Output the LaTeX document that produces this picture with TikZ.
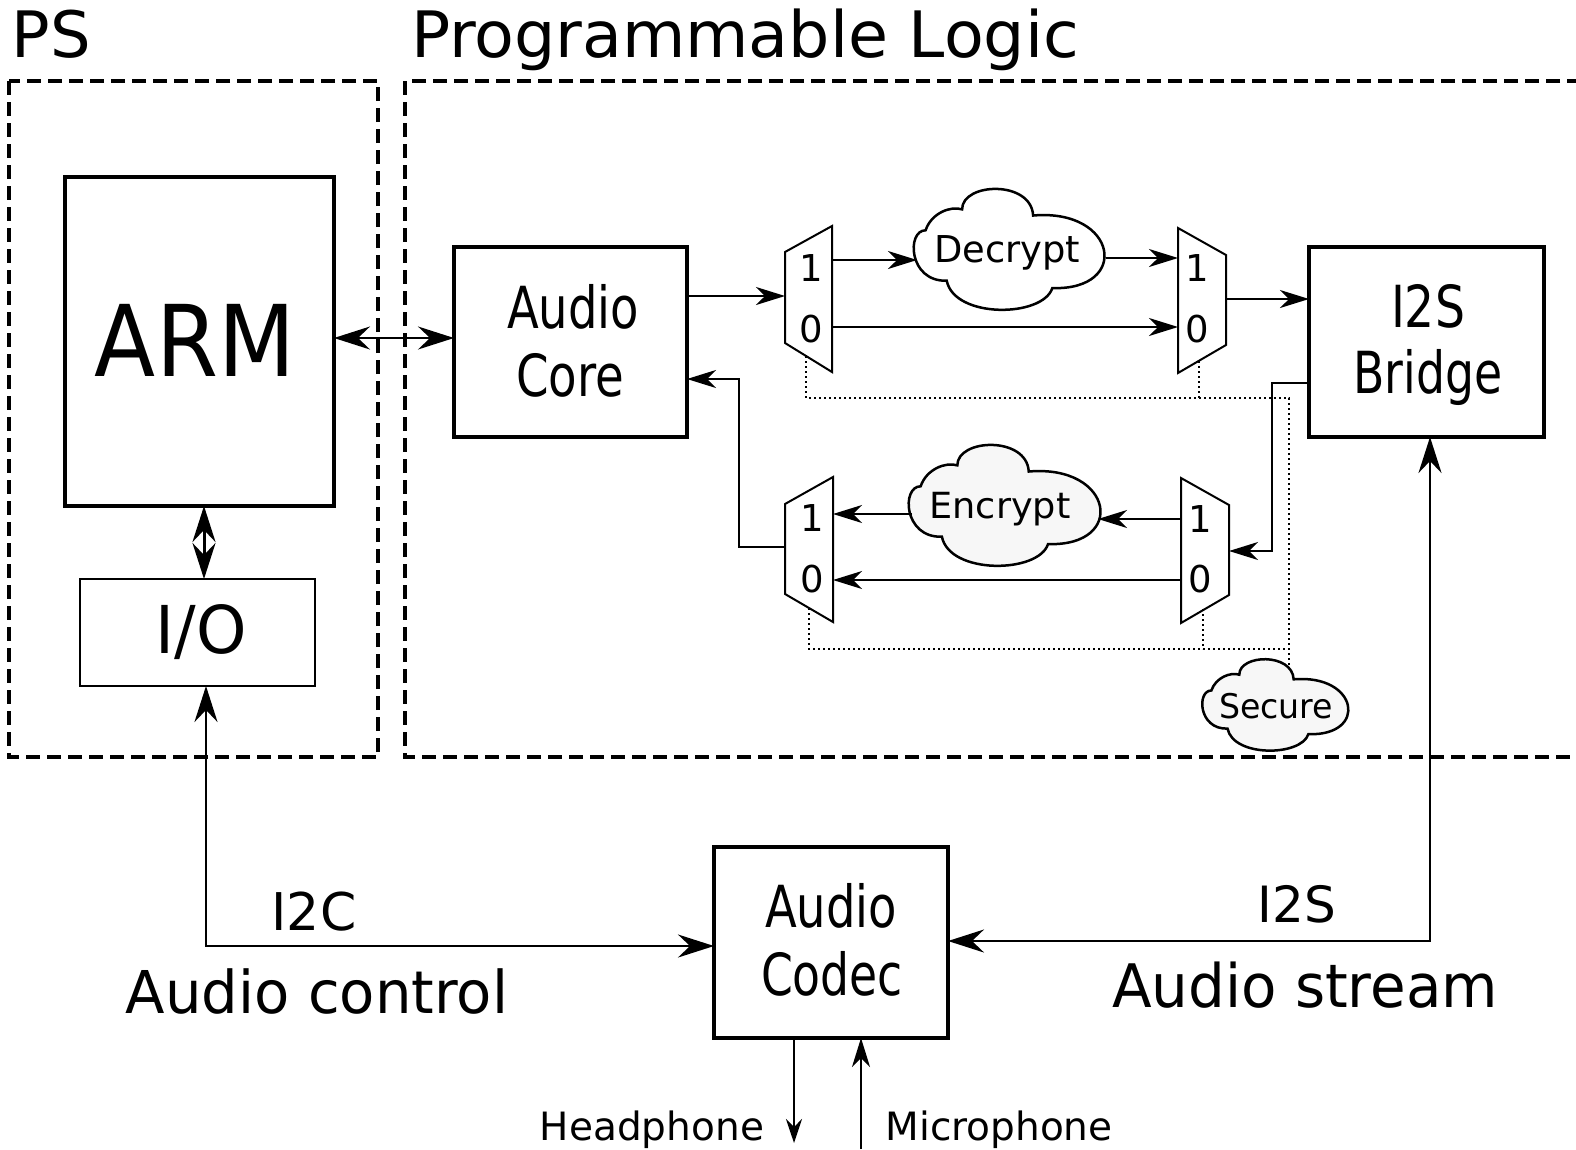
\documentclass[tikz,border=0pt]{standalone}
\usepackage{fontspec}
\setmainfont{DejaVu Sans}
\usepackage{graphicx}
\usetikzlibrary{arrows.meta}
\newcommand\fw[3]{{\fontsize{#1pt}{#1pt}\selectfont\resizebox{#2pt}{\height}{#3}}}
\newcommand\fs[2]{{\fontsize{#1pt}{#1pt}\selectfont #2}}
\tikzset{
  BigTip/.tip={Stealth[length=36pt,width=23pt,inset=12pt]},
  MedTip/.tip={Stealth[length=29pt,width=18pt,inset=9pt]},
  SmallTip/.tip={Stealth[length=24pt,width=16pt,inset=8pt]},
  region/.style={line width=4pt, dash pattern=on 14pt off 7pt},
  box/.style={draw, inner sep=0pt, outer sep=0pt},
  txt/.style={inner sep=0pt, outer sep=0pt, anchor=base},
  wire/.style={line width=2pt},
  sel/.style={line width=1.6pt, dash pattern=on 2pt off 3pt},
  muxline/.style={line width=2pt, line join=miter},
  cloudline/.style={line width=2.5pt}
}
\newcommand\cloudshape[5]{%
  \begin{scope}[shift={(#1,#2)}, x=#3pt, y=-#4pt]
    \draw[cloudline, fill=#5] (0.24,0.19) .. controls (0.24,-0.03) and (0.60,-0.05) .. (0.61,0.24)
      .. controls (1.05,0.18) and (1.12,0.85) .. (0.71,0.83)
      .. controls (0.66,1.07) and (0.2,1.08) .. (0.16,0.77)
      .. controls (-0.04,0.78) and (-0.05,0.36) .. (0.05,0.36)
      .. controls (0.08,0.22) and (0.18,0.16) .. (0.24,0.19) -- cycle;
  \end{scope}}
\begin{document}
\begin{tikzpicture}[x=1pt,y=-1pt]
\useasboundingbox (0,0) rectangle (1576,1149);

% titles
\node[txt, anchor=base west] (psT) at (12,57) {\fs{64}{PS}};
\node[txt, anchor=base west] (plT) at (411,57) {\fw{64}{668}{Programmable Logic}};

% regions
\draw[region] (9,81) rectangle (378,757);
\begin{scope}
  \clip (0,0) rectangle (1576,1149);
  \draw[region] (405,81) rectangle (1640,757);
\end{scope}

% boxes
\node[box, line width=4.5pt, minimum width=269pt, minimum height=329pt] (arm) at (199.5,341.5) {};
\node[txt] (armT) at (195,376) {\fw{99}{200}{ARM}};
\node[box, line width=2.5pt, minimum width=235pt, minimum height=107pt] (io) at (197.5,632.5) {};
\node[txt] (ioT) at (201,653) {\fw{66}{91}{I/O}};
\node[box, line width=3.5pt, minimum width=233pt, minimum height=190pt] (core) at (570.5,342) {};
\node[txt] (coreT1) at (573,328) {\fw{58}{132}{Audio}};
\node[txt] (coreT2) at (570,396) {\fw{58}{108}{Core}};
\node[box, line width=3.5pt, minimum width=235pt, minimum height=190pt] (bridge) at (1426.5,342) {};
\node[txt] (brT1) at (1428,327) {\fw{58}{74}{I2S}};
\node[txt] (brT2) at (1428,393) {\fw{58}{149}{Bridge}};
\node[box, line width=3.5pt, minimum width=234pt, minimum height=191pt] (codec) at (831,942.5) {};
\node[txt] (cdT1) at (831,927) {\fw{58}{132}{Audio}};
\node[txt] (cdT2) at (832,995) {\fw{58}{142}{Codec}};

% mux 1 (upper left)
\draw[muxline] (785,252) -- (832,226) -- (832,372) -- (785,343) -- cycle;
\coordinate (m1in) at (785,296);
\coordinate (m1o1) at (832,260);
\coordinate (m1o0) at (832,327);
\coordinate (m1s) at (806,356);
\node[txt] (m1a) at (811,281) {\fs{37}{1}};
\node[txt] (m1b) at (811,342) {\fs{37}{0}};
% mux 2 (upper right)
\draw[muxline] (1178,228) -- (1226,255) -- (1226,345) -- (1178,373) -- cycle;
\coordinate (m2i1) at (1178,258);
\coordinate (m2i0) at (1178,327);
\coordinate (m2out) at (1226,299);
\coordinate (m2s) at (1199,361);
\node[txt] (m2a) at (1197,281) {\fs{37}{1}};
\node[txt] (m2b) at (1197,342) {\fs{37}{0}};
% mux 3 (lower left)
\draw[muxline] (785,504) -- (833,477) -- (833,622) -- (785,594) -- cycle;
\coordinate (m3i1) at (833,514);
\coordinate (m3i0) at (833,580);
\coordinate (m3out) at (785,547);
\coordinate (m3s) at (809,608);
\node[txt] (m3a) at (812,531) {\fs{37}{1}};
\node[txt] (m3b) at (812,592) {\fs{37}{0}};
% mux 4 (lower right)
\draw[muxline] (1181,478) -- (1229,505) -- (1229,595) -- (1181,623) -- cycle;
\coordinate (m4in) at (1229,551);
\coordinate (m4o1) at (1181,519);
\coordinate (m4o0) at (1181,580);
\coordinate (m4s) at (1203,609);
\node[txt] (m4a) at (1200,532) {\fs{37}{1}};
\node[txt] (m4b) at (1200,592) {\fs{37}{0}};

% clouds
\cloudshape{916}{186}{192}{123}{white}
\node[txt] (decT) at (1007,262) {\fw{37}{146}{Decrypt}};
\coordinate (decW) at (917,260);
\coordinate (decE) at (1106,258);
\cloudshape{911}{442}{193}{123}{gray!6}
\node[txt] (encT) at (1000,518) {\fw{36}{141}{Encrypt}};
\coordinate (encE) at (1098,519);
\coordinate (encW) at (912,514);
\cloudshape{1204}{657}{147}{93}{gray!6}
\node[txt] (secT) at (1276,718) {\fw{34}{114}{Secure}};
\coordinate (secN) at (1289,667);

% select lines
\draw[sel] (m1s) -- (806,398) -- (1289,398) -- (secN);
\draw[sel] (m2s) -- (1199,398);
\draw[sel] (m3s) -- (809,649) -- (1289,649);
\draw[sel] (m4s) -- (1203,649);

% data path
\draw[wire,-{MedTip}] (core.east |- m1in) -- (m1in);
\draw[wire,-{MedTip}] (m1o1) -- (decW);
\draw[wire,-{MedTip}] (decE) -- (m2i1);
\draw[wire,-{MedTip}] (m1o0) -- (m2i0);
\draw[wire,-{MedTip}] (m2out) -- (bridge.west |- m2out);
\draw[wire,-{MedTip}] (bridge.west |- 0,383) -- (1272,383) -- (1272,551) -- (m4in);
\draw[wire,-{MedTip}] (m4o1) -- (encE);
\draw[wire,-{MedTip}] (encW) -- (m3i1);
\draw[wire,-{MedTip}] (m4o0) -- (m3i0);
\draw[wire,-{MedTip}] (m3out) -- (739,547) -- (739,379) -- (core.east |- 0,379);

% PS links
\draw[wire,{BigTip}-{BigTip}] (arm.east |- 0,338) -- (core.west |- 0,338);
\draw[line width=3pt,{BigTip}-{BigTip}] (arm.south -| 204,0) -- (io.north -| 204,0);

% external links
\draw[line width=2.5pt,{BigTip}-{BigTip}] (io.south -| 206,0) -- (206,946) -- (codec.west |- 0,946);
\draw[line width=2.5pt,{BigTip}-{BigTip}] (bridge.south -| 1430,0) -- (1430,941) -- (codec.east |- 0,941);
\draw[wire,-{SmallTip}] (codec.south -| 794,0) -- (794,1143);
\draw[wire,-{MedTip}] (861,1149) -- (codec.south -| 861,0);

% labels
\node[txt] (i2c) at (314,930) {\fs{52}{I2C}};
\node[txt] (i2s) at (1297,922) {\fs{50}{I2S}};
\node[txt] (actl) at (317,1013) {\fw{59}{382}{Audio control}};
\node[txt] (astr) at (1305,1007) {\fw{60}{386}{Audio stream}};
\node[txt] (hp) at (652,1140) {\fs{39}{Headphone}};
\node[txt] (mic) at (999,1140) {\fs{39}{Microphone}};
\end{tikzpicture}
\end{document}
